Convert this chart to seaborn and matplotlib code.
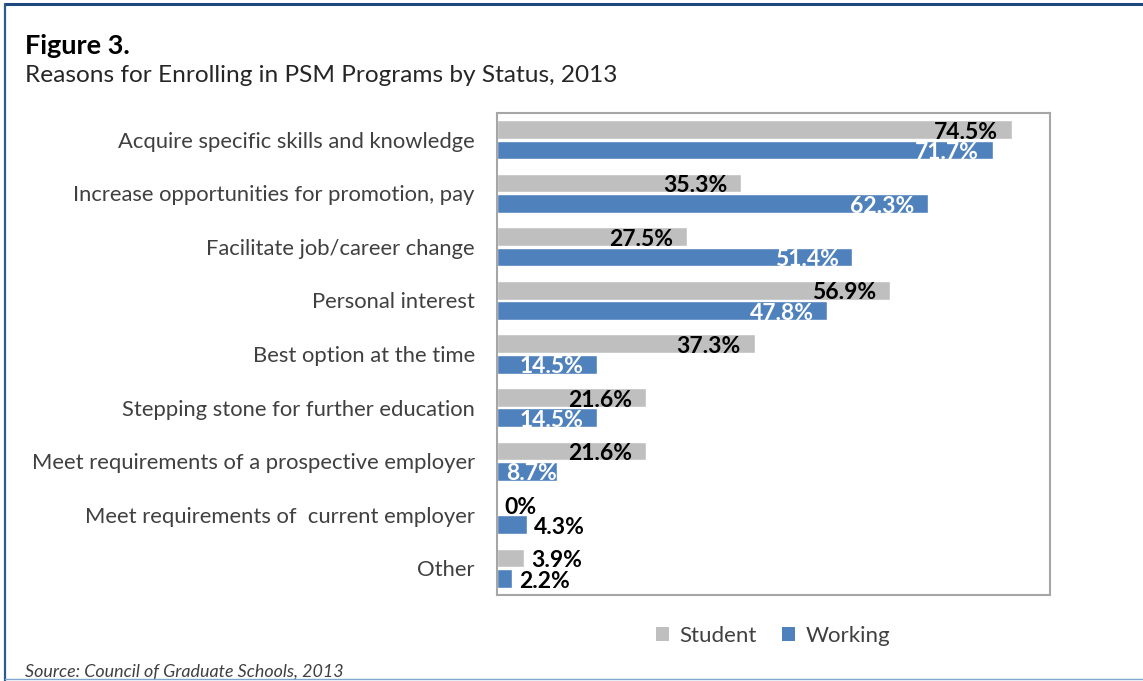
import matplotlib
matplotlib.use("Agg")
import matplotlib.pyplot as plt
from matplotlib.lines import Line2D
from matplotlib.patches import Patch
import seaborn as sns
import pandas as pd

reasons = [
    "Acquire specific skills and knowledge",
    "Increase opportunities for promotion, pay",
    "Facilitate job/career change",
    "Personal interest",
    "Best option at the time",
    "Stepping stone for further education",
    "Meet requirements of a prospective employer",
    "Meet requirements of  current employer",
    "Other",
]
student = [74.5, 35.3, 27.5, 56.9, 37.3, 21.6, 21.6, 0.0, 3.9]
working = [71.7, 62.3, 51.4, 47.8, 14.5, 14.5, 8.7, 4.3, 2.2]
groups = ["Student", "Working"]
colors = {"Student": "#BFBFBF", "Working": "#4F81BD"}

df = pd.DataFrame({
    "reason": reasons * 2,
    "value": student + working,
    "group": ["Student"] * len(reasons) + ["Working"] * len(reasons),
})

sns.set_style("white")
plt.rcParams["font.family"] = ["Lato", "DejaVu Sans"]

fig = plt.figure(figsize=(11.43, 6.81), dpi=100)
ax = fig.add_axes([0.4348, 0.1263, 0.4838, 0.7078])

sns.barplot(data=df, y="reason", x="value", hue="group", order=reasons,
            hue_order=groups, palette=colors, orient="h", width=0.76, gap=0.08,
            saturation=1, legend=False, ax=ax)

ax.set_xlim(0, 80)
ax.set_xlabel("")
ax.set_ylabel("")
ax.set_xticks([])
ax.tick_params(axis="y", length=0, pad=16, labelsize=15.8, labelcolor="#404040")
for s in ax.spines.values():
    s.set_visible(True)
    s.set_color("#A6A6A6")
    s.set_linewidth(1.5)

# value labels: inside the bar end when they fit, otherwise just past it
for container, grp in zip(ax.containers, groups):
    for patch in container.patches:
        w = patch.get_width()
        yc = patch.get_y() + patch.get_height() / 2 + 0.05
        txt = f"{w:g}%"
        if w >= 8:
            pad = 2.0 if w >= 12 else 0.1
            ax.text(w - pad, yc, txt, ha="right", va="center", fontsize=16.5,
                    fontweight="bold",
                    color="white" if grp == "Working" else "black")
        else:
            ax.text(w + 1.0, yc, txt, ha="left", va="center", fontsize=16.5,
                    fontweight="bold", color="black")

handles = [Patch(facecolor=colors[g], edgecolor="none") for g in groups]
fig.legend(handles, groups, loc="center", bbox_to_anchor=(0.6763, 0.066),
           ncol=2, frameon=False, fontsize=16, handlelength=0.6,
           handleheight=0.6, handletextpad=0.45, columnspacing=1.15,
           labelcolor="#404040")

fig.text(0.022, 0.933, "Figure 3.", fontsize=19.5, fontweight="bold",
         color="black", va="center")
fig.text(0.022, 0.889, "Reasons for Enrolling in PSM Programs by Status, 2013",
         fontsize=17.6, color="#262626", va="center")
fig.text(0.022, 0.014, "Source: Council of Graduate Schools, 2013",
         fontsize=12.9, style="italic", color="#404040", va="center")

# page frame
fig.add_artist(Line2D([0.004, 1.0], [0.994, 0.994], color="#1F497D",
                      linewidth=2.2, transform=fig.transFigure))
fig.add_artist(Line2D([0.0045, 0.0045], [0.0, 0.994], color="#2E5C8A",
                      linewidth=1.6, transform=fig.transFigure))
fig.add_artist(Line2D([0.004, 1.0], [0.003, 0.003], color="#7FA7D0",
                      linewidth=1.0, transform=fig.transFigure))

fig.savefig("out.png", dpi=100)
